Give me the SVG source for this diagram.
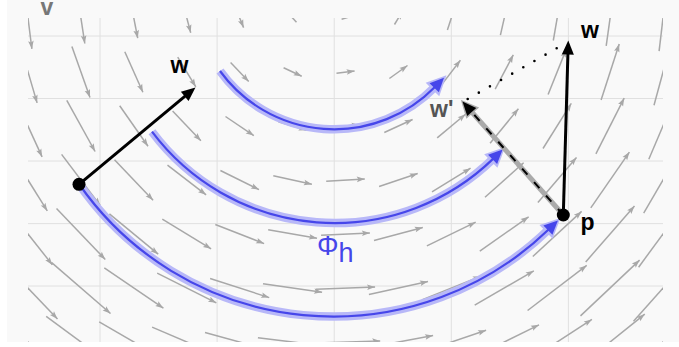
<svg xmlns="http://www.w3.org/2000/svg" width="679" height="347" viewBox="0 0 679 347">
<style>
.a{fill:none;stroke:#a8a8a8;stroke-width:1.5;marker-end:url(#ah)}
.b{fill:none;stroke:#a8a8a8;stroke-width:1.5}
.g{stroke:#e0e0e0;stroke-width:1;fill:none}
.halo{fill:none;stroke:#b8b8f8;stroke-width:8.5;marker-end:url(#hh)}
.core{fill:none;stroke:#4646ea;stroke-width:2.2;marker-end:url(#hc)}
.lbl{font-family:"Liberation Sans",Arial,sans-serif;font-weight:bold;font-size:23px}
</style>
<defs>
<clipPath id="plot"><rect x="28" y="18" width="635" height="324"/></clipPath>
<marker id="ah" markerUnits="userSpaceOnUse" orient="auto" markerWidth="20" markerHeight="20" refX="0" refY="0" overflow="visible"><path d="M0,0 L-8,-2.8 L-6.5,0 L-8,2.8z" fill="#a8a8a8"/></marker>
<marker id="hc" markerUnits="userSpaceOnUse" orient="auto" markerWidth="30" markerHeight="30" refX="0" refY="0" overflow="visible"><path d="M13,0 L-1,-6.5 L-1,6.5z" fill="#4646ea"/></marker>
<marker id="hh" markerUnits="userSpaceOnUse" orient="auto" markerWidth="30" markerHeight="30" refX="0" refY="0" overflow="visible"><path d="M16.5,0 L-3.5,-9.5 L-3.5,9.5z" fill="#b8b8f8"/></marker>
<marker id="bk" markerUnits="userSpaceOnUse" orient="auto" markerWidth="30" markerHeight="30" refX="0" refY="0" overflow="visible"><path d="M10,0 L-4,-6 L-4,6z" fill="#000"/></marker>
<marker id="gk" markerUnits="userSpaceOnUse" orient="auto" markerWidth="30" markerHeight="30" refX="0" refY="0" overflow="visible"><path d="M12.5,0 L-5.5,-8.5 L-5.5,8.5z" fill="#aaa"/></marker>
</defs>
<rect x="7" y="0" width="672" height="342" fill="#f9f9f9"/>
<g id="grid" class="g">
<path d="M100 18V342M217.1 18V342M334.2 18V342M451.3 18V342M568.4 18V342"/>
<path d="M28 36H663M28 98.5H663M28 161H663M28 223.6H663M28 286H663"/>
</g>
<g id="field" clip-path="url(#plot)">
<path class="a" d="M24.1 -12.9l7.8 61.8"/><path class="a" d="M77 -7.6l7.8 51.1"/><path class="a" d="M129.9 -2.2l7.8 40.4"/><path class="a" d="M182.9 3.1l7.8 29.7"/><path class="a" d="M235.8 8.5l7.8 19.1"/><path class="b" d="M288.7 13.8l7.8 8.4"/><path class="b" d="M341.6 19.2l7.8 -2.3"/><path class="a" d="M394.5 24.5l7.8 -13"/><path class="a" d="M447.4 29.9l7.8 -23.7"/><path class="a" d="M500.4 35.2l7.8 -34.4"/><path class="a" d="M553.3 40.5l7.8 -45.1"/><path class="a" d="M606.2 45.9l7.8 -55.8"/><path class="a" d="M659.1 51.2l7.8 -66.5"/>
<path class="a" d="M19 41.1l18.1 61.8"/><path class="a" d="M71.9 46.4l18.1 51.1"/><path class="a" d="M124.8 51.8l18.1 40.4"/><path class="a" d="M177.7 57.1l18.1 29.7"/><path class="a" d="M230.6 62.5l18.1 19.1"/><path class="a" d="M283.6 67.8l18.1 8.4"/><path class="a" d="M336.5 73.2l18.1 -2.3"/><path class="a" d="M389.4 78.5l18.1 -13"/><path class="a" d="M442.3 83.9l18.1 -23.7"/><path class="a" d="M495.2 89.2l18.1 -34.4"/><path class="a" d="M548.1 94.5l18.1 -45.1"/><path class="a" d="M601.1 99.9l18.1 -55.8"/><path class="a" d="M654 105.2l18.1 -66.5"/>
<path class="a" d="M13.8 95.1l28.3 61.8"/><path class="a" d="M66.8 100.4l28.3 51.1"/><path class="a" d="M119.7 105.8l28.3 40.4"/><path class="a" d="M172.6 111.1l28.3 29.7"/><path class="a" d="M225.5 116.5l28.3 19.1"/><path class="a" d="M278.4 121.8l28.3 8.4"/><path class="a" d="M331.3 127.2l28.3 -2.3"/><path class="a" d="M384.3 132.5l28.3 -13"/><path class="a" d="M437.2 137.9l28.3 -23.7"/><path class="a" d="M490.1 143.2l28.3 -34.4"/><path class="a" d="M543 148.5l28.3 -45.1"/><path class="a" d="M595.9 153.9l28.3 -55.8"/><path class="a" d="M648.8 159.2l28.3 -66.5"/>
<path class="a" d="M8.7 149.1l38.6 61.8"/><path class="a" d="M61.6 154.4l38.6 51.1"/><path class="a" d="M114.5 159.8l38.6 40.4"/><path class="a" d="M167.5 165.1l38.6 29.7"/><path class="a" d="M220.4 170.5l38.6 19.1"/><path class="a" d="M273.3 175.8l38.6 8.4"/><path class="a" d="M326.2 181.2l38.6 -2.3"/><path class="a" d="M379.1 186.5l38.6 -13"/><path class="a" d="M432 191.9l38.6 -23.7"/><path class="a" d="M485 197.2l38.6 -34.4"/><path class="a" d="M537.9 202.5l38.6 -45.1"/><path class="a" d="M590.8 207.9l38.6 -55.8"/><path class="a" d="M643.7 213.2l38.6 -66.5"/>
<path class="a" d="M3.6 203.1l48.8 61.8"/><path class="a" d="M56.5 208.4l48.8 51.1"/><path class="a" d="M109.4 213.8l48.8 40.4"/><path class="a" d="M162.3 219.1l48.8 29.7"/><path class="a" d="M215.3 224.5l48.8 19.1"/><path class="a" d="M268.2 229.8l48.8 8.4"/><path class="a" d="M321.1 235.2l48.8 -2.3"/><path class="a" d="M374 240.5l48.8 -13"/><path class="a" d="M426.9 245.9l48.8 -23.7"/><path class="a" d="M479.8 251.2l48.8 -34.4"/><path class="a" d="M532.8 256.5l48.8 -45.1"/><path class="a" d="M585.7 261.9l48.8 -55.8"/><path class="a" d="M638.6 267.2l48.8 -66.5"/>
<path class="a" d="M-1.6 257.1l59.1 61.8"/><path class="a" d="M51.4 262.4l59.1 51.1"/><path class="a" d="M104.3 267.8l59.1 40.4"/><path class="a" d="M157.2 273.1l59.1 29.7"/><path class="a" d="M210.1 278.5l59.1 19.1"/><path class="a" d="M263 283.8l59.1 8.4"/><path class="a" d="M316 289.2l59.1 -2.3"/><path class="a" d="M368.9 294.5l59.1 -13"/><path class="a" d="M421.8 299.9l59.1 -23.7"/><path class="a" d="M474.7 305.2l59.1 -34.4"/><path class="a" d="M527.6 310.5l59.1 -45.1"/><path class="a" d="M580.5 315.9l59.1 -55.8"/><path class="a" d="M633.5 321.2l59.1 -66.5"/>
<path class="a" d="M-6.7 311.1l69.4 61.8"/><path class="a" d="M46.2 316.4l69.4 51.1"/><path class="a" d="M99.2 321.8l69.4 40.4"/><path class="a" d="M152.1 327.1l69.4 29.7"/><path class="a" d="M205 332.5l69.4 19.1"/><path class="a" d="M257.9 337.8l69.4 8.4"/><path class="a" d="M310.8 343.2l69.4 -2.3"/><path class="a" d="M363.7 348.5l69.4 -13"/><path class="a" d="M416.7 353.9l69.4 -23.7"/><path class="a" d="M469.6 359.2l69.4 -34.4"/><path class="a" d="M522.5 364.5l69.4 -45.1"/><path class="a" d="M575.4 369.9l69.4 -55.8"/><path class="a" d="M628.3 375.2l69.4 -66.5"/>
</g>
<text class="lbl" x="40.5" y="15" fill="#777">v</text>
<g id="flows">
<g id="flow-top"><path class="halo" d="M220 71 A141 141 0 0 0 434.9 87"/><path class="core" d="M220 71 A141 141 0 0 0 434.9 87"/></g>
<g id="flow-mid"><path class="halo" d="M152 131.7 A228 228 0 0 0 493.3 158.6"/><path class="core" d="M152 131.7 A228 228 0 0 0 493.3 158.6"/></g>
<g id="flow-bottom"><path class="halo" d="M79 184 A310 310 0 0 0 548.6 229.5"/><path class="core" d="M79 184 A310 310 0 0 0 548.6 229.5"/></g>
<text x="317" y="255" font-family="Liberation Sans, Arial, sans-serif" font-size="27" fill="#4646ea">Φ<tspan dy="7">h</tspan></text>
</g>
<g id="connectors">
<path d="M563.3 215 L469.1 109" stroke="#aaa" stroke-width="5" fill="none" marker-end="url(#gk)"/>
<path d="M563.3 215 L469.1 109" stroke="#000" stroke-width="2" stroke-dasharray="8 10" fill="none" marker-end="url(#bk)"/>
<path d="M467.7 99 L556.7 48.3" stroke="#000" stroke-width="2.6" stroke-linecap="round" stroke-dasharray="0 12.8" fill="none"/>
<path d="M79 184.3 L187.8 93.9" stroke="#000" stroke-width="3" fill="none" marker-end="url(#bk)"/>
<path d="M563.3 215 L568 50.5" stroke="#000" stroke-width="3" fill="none" marker-end="url(#bk)"/>
</g>
<g id="point-x">
<circle cx="79" cy="184.3" r="6.5" fill="#000"/>
<text class="lbl" x="170.5" y="73" fill="#000">w</text>
</g>
<g id="point-p">
<circle cx="563.3" cy="215" r="6.5" fill="#000"/>
<text class="lbl" x="580.5" y="230" fill="#000">p</text>
<text class="lbl" x="581" y="37.5" fill="#000">w</text>
<text class="lbl" x="430" y="117" fill="#555">w'</text>
</g>
</svg>
